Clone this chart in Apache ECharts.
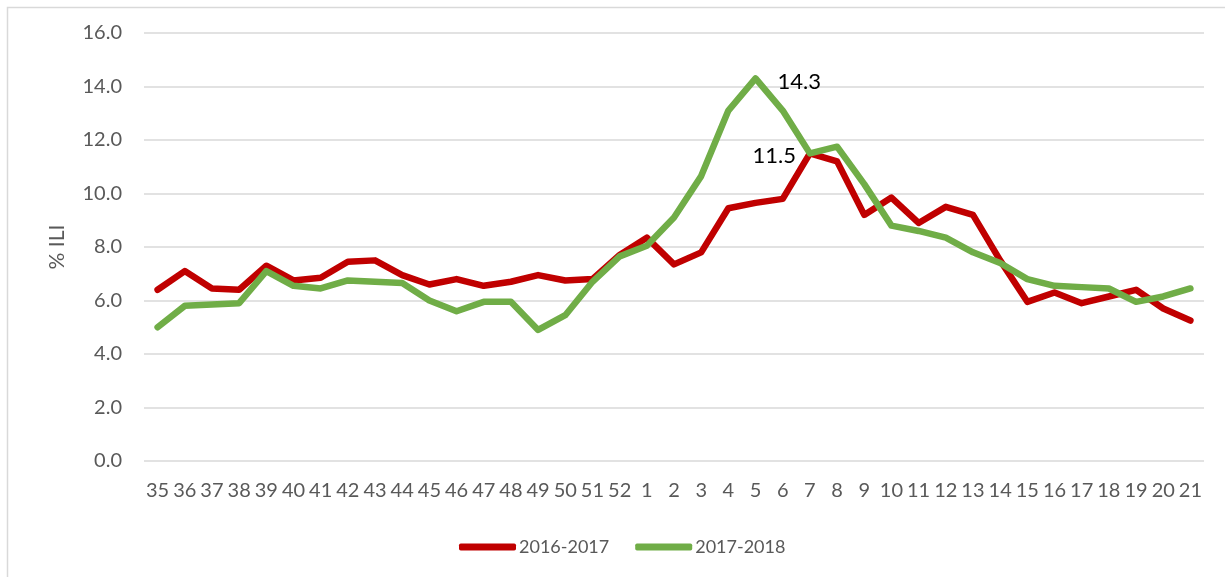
<!DOCTYPE html>
<html>
<head>
<meta charset="utf-8">
<script src="https://cdn.jsdelivr.net/npm/echarts@6/dist/echarts.min.js"></script>
<style>
  html, body { margin: 0; padding: 0; background: #ffffff; }
  #chart { width: 1225px; height: 577px; }
</style>
</head>
<body>
<div id="chart"></div>
<script>
// Surveillance weeks, 35 of one year through 21 of the next
const weeks = ['35','36','37','38','39','40','41','42','43','44','45','46','47','48','49','50','51','52',
  '1','2','3','4','5','6','7','8','9','10','11','12','13','14','15','16','17','18','19','20','21'];

// Weekly % ILI per season
const season2016 = [6.4, 7.1, 6.45, 6.4, 7.3, 6.75, 6.85, 7.45, 7.5, 6.95, 6.6, 6.8, 6.55, 6.7, 6.95, 6.75, 6.8, 7.7,
  8.35, 7.35, 7.8, 9.45, 9.65, 9.8, 11.5, 11.2, 9.2, 9.85, 8.9, 9.5, 9.2, 7.5, 5.95, 6.3, 5.9, 6.15, 6.4, 5.7, 5.25];
const season2017 = [5.0, 5.8, 5.85, 5.9, 7.1, 6.55, 6.45, 6.75, 6.7, 6.65, 6.0, 5.6, 5.95, 5.95, 4.9, 5.45, 6.7, 7.65,
  8.05, 9.1, 10.65, 13.1, 14.3, 13.1, 11.5, 11.75, 10.35, 8.8, 8.6, 8.35, 7.8, 7.4, 6.8, 6.55, 6.5, 6.45, 5.95, 6.15, 6.45];

const seriesNames = ['2016-2017', '2017-2018'];
const yTicks = { min: 0, max: 16, step: 2 };

// Peak weeks carry a value label
function withPeakLabel(values, position, distance) {
  let peak = 0;
  values.forEach((v, i) => { if (v > values[peak]) peak = i; });
  return values.map((v, i) => i !== peak ? v : {
    value: v,
    label: {
      show: true, position: position, distance: distance, offset: [0, 3],
      formatter: p => Number(p.value).toFixed(1),
      color: '#000000', fontFamily: 'Lato', fontSize: 22
    }
  });
}

const textColor = '#595959';
const font = 'Lato';

const chart = echarts.init(document.getElementById('chart'), null, { renderer: 'canvas' });
chart.setOption({
  backgroundColor: '#ffffff',
  animation: false,
  graphic: [{
    type: 'rect', left: 5, top: 5, silent: true,
    shape: { width: 1400, height: 800 },
    style: { fill: 'none', stroke: '#d9d9d9', lineWidth: 1.5 }
  }],
  grid: { left: 144, right: 21, top: 33, bottom: 116 },
  legend: {
    left: 454, top: 533,
    itemWidth: 57, itemHeight: 7, itemGap: 26,
    icon: 'roundRect',
    textStyle: { color: textColor, fontFamily: font, fontSize: 18, padding: [0, 0, 0, -2] },
    data: seriesNames
  },
  xAxis: {
    type: 'category', data: weeks, boundaryGap: true,
    axisLine: { show: false }, axisTick: { show: false },
    axisLabel: { interval: 0, color: textColor, fontFamily: font, fontSize: 20, margin: 20 }
  },
  yAxis: {
    type: 'value', min: yTicks.min, max: yTicks.max, interval: yTicks.step,
    name: '% ILI', nameLocation: 'middle', nameGap: 76,
    nameTextStyle: { color: textColor, fontFamily: font, fontSize: 21 },
    axisLine: { show: false }, axisTick: { show: false },
    axisLabel: { color: textColor, fontFamily: font, fontSize: 20, margin: 22, formatter: v => v.toFixed(1) },
    splitLine: { lineStyle: { color: '#d9d9d9', width: 1.5 } }
  },
  series: [
    {
      name: seriesNames[0], type: 'line', data: withPeakLabel(season2016, 'left', 14),
      symbol: 'circle', symbolSize: 0, showSymbol: true, color: '#c00000',
      lineStyle: { width: 6.5, cap: 'round', join: 'round', color: '#c00000' }
    },
    {
      name: seriesNames[1], type: 'line', data: withPeakLabel(season2017, 'right', 22),
      symbol: 'circle', symbolSize: 0, showSymbol: true, color: '#70ad47',
      lineStyle: { width: 6.5, cap: 'round', join: 'round', color: '#70ad47' }
    }
  ]
});
</script>
</body>
</html>
